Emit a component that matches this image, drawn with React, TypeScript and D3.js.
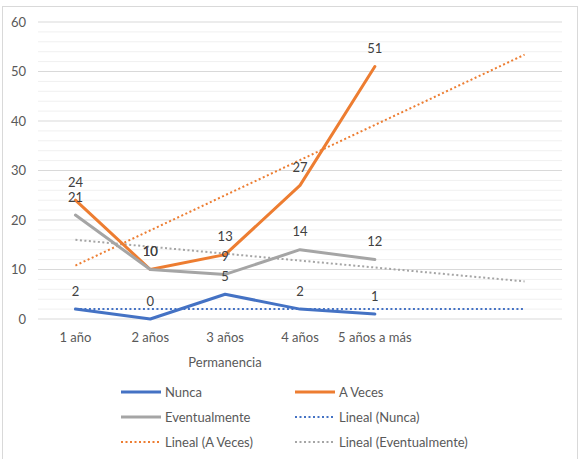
import React, { useEffect, useRef } from "react"
import * as d3 from "d3"

// Permanencia categories (two empty slots for the trend forecast)
const categories = ["1 año", "2 años", "3 años", "4 años", "5 años a más"]
const forecastSlots = 2

const nunca = [2, 0, 5, 2, 1]
const aVeces = [24, 10, 13, 27, 51]
const eventualmente = [21, 10, 9, 14, 12]

const yTicks = [0, 10, 20, 30, 40, 50, 60]
const yMinorTicks = d3.range(2, 60, 2).filter((v) => v % 10 !== 0)

const seriesNames = ["Nunca", "A Veces", "Eventualmente"]
const colors = ["#4472C4", "#ED7D31", "#A5A5A5"]

// least squares fit over x = 1..n, like Excel's linear trendline
function linearFit(values: number[]) {
    const xs = values.map((_, i) => i + 1)
    const mx = d3.mean(xs) as number
    const my = d3.mean(values) as number
    const num = d3.sum(xs, (x, i) => (x - mx) * (values[i] - my))
    const den = d3.sum(xs, (x) => (x - mx) ** 2)
    const slope = num / den
    return (x: number) => my + slope * (x - mx)
}

function Chart() {
    const svgRef = useRef<SVGSVGElement>(null)

    useEffect(() => {
        const width = 581
        const height = 459
        const plot = { left: 38, right: 562, top: 22, bottom: 319 }
        const font = "Lato, 'Open Sans', sans-serif"

        const svg = d3.select(svgRef.current)
        svg.selectAll("*").remove()
        svg.attr("width", width).attr("height", height)

        svg.append("rect")
            .attr("x", 2.5)
            .attr("y", 6.5)
            .attr("width", 575)
            .attr("height", 470)
            .attr("fill", "#fff")
            .attr("stroke", "#d9d9d9")

        const slots = d3.range(categories.length + forecastSlots)
        const x = d3
            .scalePoint<number>()
            .domain(slots)
            .range([plot.left, plot.right])
            .padding(0.5)

        const y = d3.scaleLinear().domain([0, 60]).range([plot.bottom, plot.top])

        // gridlines
        svg.append("g")
            .selectAll("line")
            .data(yMinorTicks)
            .join("line")
            .attr("x1", plot.left)
            .attr("x2", plot.right)
            .attr("y1", (d) => y(d))
            .attr("y2", (d) => y(d))
            .attr("stroke", "#f0f0f0")
            .attr("stroke-width", 1)

        svg.append("g")
            .selectAll("line")
            .data(yTicks)
            .join("line")
            .attr("x1", plot.left)
            .attr("x2", plot.right)
            .attr("y1", (d) => y(d))
            .attr("y2", (d) => y(d))
            .attr("stroke", "#d9d9d9")
            .attr("stroke-width", 1)

        // y labels
        svg.append("g")
            .selectAll("text")
            .data(yTicks)
            .join("text")
            .attr("x", 26)
            .attr("y", (d) => y(d))
            .attr("dy", "0.35em")
            .attr("text-anchor", "end")
            .attr("font-family", font)
            .attr("font-size", 13)
            .attr("fill", "#595959")
            .text((d) => d)

        // x labels
        svg.append("g")
            .selectAll("text")
            .data(categories)
            .join("text")
            .attr("x", (_, i) => x(i) as number)
            .attr("y", 337)
            .attr("dy", "0.35em")
            .attr("text-anchor", "middle")
            .attr("font-family", font)
            .attr("font-size", 13)
            .attr("fill", "#595959")
            .text((d) => d)

        svg.append("text")
            .attr("x", 225)
            .attr("y", 362)
            .attr("dy", "0.35em")
            .attr("text-anchor", "middle")
            .attr("font-family", font)
            .attr("font-size", 13)
            .attr("fill", "#595959")
            .text("Permanencia")

        const series = [nunca, aVeces, eventualmente]

        // trendlines, forecast two periods forward
        series.forEach((values, s) => {
            const fit = linearFit(values)
            const last = slots.length
            svg.append("line")
                .attr("x1", x(0) as number)
                .attr("y1", y(fit(1)))
                .attr("x2", x(last - 1) as number)
                .attr("y2", y(fit(last)))
                .attr("stroke", colors[s])
                .attr("stroke-width", 2)
                .attr("stroke-dasharray", "2,2.5")
        })

        const line = d3
            .line<number>()
            .x((_, i) => x(i) as number)
            .y((d) => y(d))

        series.forEach((values, s) => {
            svg.append("path")
                .datum(values)
                .attr("d", line)
                .attr("fill", "none")
                .attr("stroke", colors[s])
                .attr("stroke-width", 3)
                .attr("stroke-linejoin", "round")
                .attr("stroke-linecap", "round")
        })

        // data labels above each point
        series.forEach((values) => {
            svg.append("g")
                .selectAll("text")
                .data(values)
                .join("text")
                .attr("x", (_, i) => x(i) as number)
                .attr("y", (d) => y(d) - 18)
                .attr("dy", "0.35em")
                .attr("text-anchor", "middle")
                .attr("font-family", font)
                .attr("font-size", 13)
                .attr("fill", "#404040")
                .text((d) => d)
        })

        // legend
        const legend = [
            { name: "Nunca", color: colors[0], dotted: false },
            { name: "A Veces", color: colors[1], dotted: false },
            { name: "Eventualmente", color: colors[2], dotted: false },
            { name: `Lineal (${seriesNames[0]})`, color: colors[0], dotted: true },
            { name: `Lineal (${seriesNames[1]})`, color: colors[1], dotted: true },
            { name: `Lineal (${seriesNames[2]})`, color: colors[2], dotted: true },
        ]
        const colX = [121, 295]
        const rowY = [392, 417, 442]

        const items = svg
            .append("g")
            .selectAll("g")
            .data(legend)
            .join("g")
            .attr("transform", (_, i) => `translate(${colX[i % 2]},${rowY[Math.floor(i / 2)]})`)

        items.append("line")
            .attr("x1", 0)
            .attr("x2", 40)
            .attr("stroke", (d) => d.color)
            .attr("stroke-width", (d) => (d.dotted ? 2 : 3))
            .attr("stroke-dasharray", (d) => (d.dotted ? "2,2.5" : null))

        items.append("text")
            .attr("x", 44)
            .attr("dy", "0.35em")
            .attr("font-family", font)
            .attr("font-size", 13)
            .attr("fill", "#595959")
            .text((d) => d.name)
    }, [])

    return <svg ref={svgRef} style={{ position: "absolute", left: 0, top: 0 }} />
}

export default function App() {
    return <Chart />
}
